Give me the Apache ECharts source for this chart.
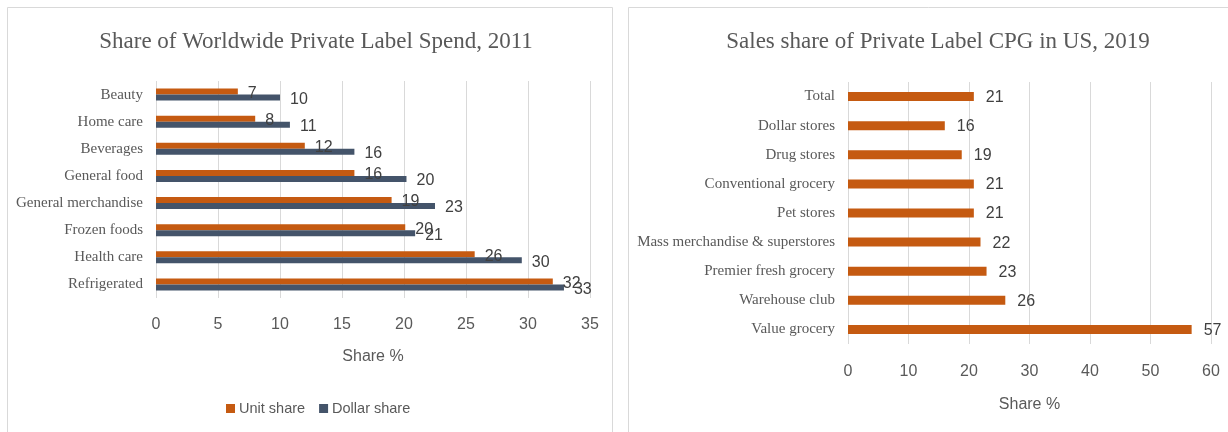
<!DOCTYPE html>
<html>
<head>
<meta charset="utf-8">
<script src="https://cdn.jsdelivr.net/npm/echarts@6/dist/echarts.min.js"></script>
<style>
html,body{margin:0;padding:0;background:#fff;}
#c{width:1228px;height:432px;}
</style>
</head>
<body>
<div id="c"></div>
<script>
// ---- Left chart data ----
const leftTitle = 'Share of Worldwide Private Label Spend, 2011';
const leftCategories = ['Beauty', 'Home care', 'Beverages', 'General food', 'General merchandise', 'Frozen foods', 'Health care', 'Refrigerated'];
const unitShare = [6.6, 8.0, 12.0, 16.0, 19.0, 20.1, 25.7, 32.0];
const dollarShare = [10.0, 10.8, 16.0, 20.2, 22.5, 20.9, 29.5, 32.9];
const leftSeriesNames = ['Unit share', 'Dollar share'];
const leftTicks = [0, 5, 10, 15, 20, 25, 30, 35];

// ---- Right chart data ----
const rightTitle = 'Sales share of Private Label CPG in US, 2019';
const rightCategories = ['Total', 'Dollar stores', 'Drug stores', 'Conventional grocery', 'Pet stores', 'Mass merchandise & superstores', 'Premier fresh grocery', 'Warehouse club', 'Value grocery'];
const rightValues = [20.8, 16.0, 18.8, 20.8, 20.8, 21.9, 22.9, 26.0, 56.8];
const rightTicks = [0, 10, 20, 30, 40, 50, 60];
const axisName = 'Share %';

const ORANGE = '#C55A11';
const NAVY = '#44546A';
const SERIF = '"Liberation Serif", "Times New Roman", serif';
const SANS = '"Liberation Sans Narrow", "Liberation Sans", Arial, sans-serif';

const chart = echarts.init(document.getElementById('c'), null, {renderer: 'canvas'});

const labelCommon = {
  show: true,
  position: 'right',
  distance: 10,
  offset: [0, 2],
  color: '#404040',
  fontFamily: SANS,
  fontSize: 16,
  formatter: p => Math.round(p.value)
};

function xAxisCfg(gridIndex, ticks, margin, nameGap) {
  return {
    type: 'value',
    gridIndex: gridIndex,
    min: ticks[0],
    max: ticks[ticks.length - 1],
    interval: ticks[1] - ticks[0],
    axisLine: {show: false},
    axisTick: {show: false},
    splitLine: {show: true, lineStyle: {color: '#D9D9D9', width: 1}},
    axisLabel: {color: '#595959', fontFamily: SANS, fontSize: 16, margin: margin},
    name: axisName,
    nameLocation: 'middle',
    nameGap: nameGap,
    nameTextStyle: {color: '#595959', fontFamily: SANS, fontSize: 16}
  };
}

function yAxisCfg(gridIndex, cats) {
  return {
    type: 'category',
    gridIndex: gridIndex,
    data: cats,
    inverse: true,
    axisLine: {show: false},
    axisTick: {show: false},
    splitLine: {show: false},
    axisLabel: {color: '#595959', fontFamily: SERIF, fontSize: 15, margin: 13}
  };
}

const option = {
  backgroundColor: '#fff',
  animation: false,
  graphic: [
    {type: 'rect', shape: {x: 7.5, y: 7.5, width: 605, height: 440}, style: {fill: 'none', stroke: '#D9D9D9', lineWidth: 1}, silent: true},
    {type: 'rect', shape: {x: 628.5, y: 7.5, width: 620, height: 440}, style: {fill: 'none', stroke: '#D9D9D9', lineWidth: 1}, silent: true}
  ],
  title: [
    {text: leftTitle, left: 311, top: 25, textAlign: 'center',
     textStyle: {fontFamily: SERIF, fontSize: 23, fontWeight: 'normal', color: '#595959'}},
    {text: rightTitle, left: 933, top: 25, textAlign: 'center',
     textStyle: {fontFamily: SERIF, fontSize: 23, fontWeight: 'normal', color: '#595959'}}
  ],
  legend: {
    data: leftSeriesNames,
    left: 226,
    top: 401,
    padding: 0,
    itemWidth: 9,
    itemHeight: 9,
    itemGap: 14,
    icon: 'rect',
    textStyle: {color: '#595959', fontFamily: SANS, fontSize: 14.5, padding: [0, 0, 0, -1]}
  },
  grid: [
    {left: 156, top: 81, width: 434, height: 217},
    {left: 848, top: 82, width: 363, height: 262}
  ],
  xAxis: [
    xAxisCfg(0, leftTicks, 19, 51),
    xAxisCfg(1, rightTicks, 20, 53)
  ],
  yAxis: [
    yAxisCfg(0, leftCategories),
    yAxisCfg(1, rightCategories)
  ],
  series: [
    {name: leftSeriesNames[0], type: 'bar', xAxisIndex: 0, yAxisIndex: 0, data: unitShare,
     barWidth: 6, barGap: '0%', itemStyle: {color: ORANGE}, label: labelCommon},
    {name: leftSeriesNames[1], type: 'bar', xAxisIndex: 0, yAxisIndex: 0, data: dollarShare,
     barWidth: 6, barGap: '0%', itemStyle: {color: NAVY}, label: labelCommon},
    {name: 'Sales share', type: 'bar', xAxisIndex: 1, yAxisIndex: 1, data: rightValues,
     barWidth: 9, itemStyle: {color: ORANGE}, label: Object.assign({}, labelCommon, {distance: 12, offset: [0, 1]})}
  ]
};
chart.setOption(option);
</script>
</body>
</html>
